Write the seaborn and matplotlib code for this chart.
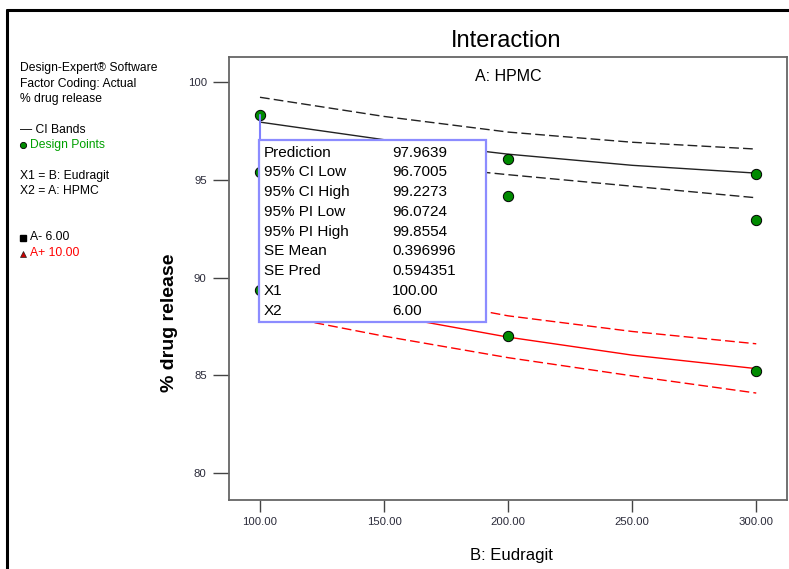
import matplotlib
matplotlib.use("Agg")
import matplotlib.pyplot as plt
from matplotlib.lines import Line2D
from matplotlib.patches import Rectangle
import seaborn as sns

# B: Eudragit levels at which the model curves are read
eudragit = [100, 150, 200, 250, 300]

# A- (HPMC 6.00): predicted % drug release with 95% CI bands
low_fit = [97.96, 97.06, 96.32, 95.75, 95.35]
low_ci_lo = [96.70, 95.90, 95.27, 94.68, 94.09]
low_ci_hi = [99.23, 98.25, 97.45, 96.93, 96.58]

# A+ (HPMC 10.00): predicted % drug release with 95% CI bands
high_fit = [89.50, 88.11, 86.96, 86.04, 85.35]
high_ci_lo = [88.24, 87.01, 85.91, 84.98, 84.10]
high_ci_hi = [90.76, 89.23, 88.05, 87.25, 86.62]

# Design points
pts_x = [100, 100, 100, 200, 200, 200, 300, 300, 300]
pts_y = [98.31, 95.40, 89.37, 96.05, 94.20, 87.01, 95.33, 92.93, 85.22]

# Point prediction read-out
probe_labels = ["Prediction", "95% CI Low", "95% CI High", "95% PI Low",
                "95% PI High", "SE Mean", "SE Pred", "X1", "X2"]
probe_values = ["97.9639", "96.7005", "99.2273", "96.0724", "99.8554",
                "0.396996", "0.594351", "100.00", "6.00"]
probe_x, probe_y = 100, 98.31

x_ticks = [100, 150, 200, 250, 300]
x_tick_labels = ["100.00", "150.00", "200.00", "250.00", "300.00"]
y_ticks = [80, 85, 90, 95, 100]

sns.set_theme(style="white")
plt.rcParams["font.family"] = ["Liberation Sans", "DejaVu Sans"]

fig = plt.figure(figsize=(7.89, 5.69), dpi=100)
ax = fig.add_axes([0.2902, 0.1213, 0.7073, 0.7785])

dash = (0, (7, 3))
line_kw = dict(ax=ax, linewidth=1.0, legend=False, zorder=2)
sns.lineplot(x=eudragit, y=low_fit, color="#222222", **line_kw)
sns.lineplot(x=eudragit, y=low_ci_lo, color="#222222", linestyle=dash, **line_kw)
sns.lineplot(x=eudragit, y=low_ci_hi, color="#222222", linestyle=dash, **line_kw)
sns.lineplot(x=eudragit, y=high_fit, color="#ff0000", **line_kw)
sns.lineplot(x=eudragit, y=high_ci_lo, color="#ff0000", linestyle=dash, **line_kw)
sns.lineplot(x=eudragit, y=high_ci_hi, color="#ff0000", linestyle=dash, **line_kw)

sns.scatterplot(x=pts_x, y=pts_y, ax=ax, color="#008a00", edgecolor="black",
                linewidth=0.7, s=55, zorder=4, legend=False)

ax.set_xlim(87.5, 312.4)
ax.set_ylim(78.63, 101.29)
ax.set_xticks(x_ticks)
ax.set_xticklabels(x_tick_labels)
ax.set_yticks(y_ticks)

tick_color = "#2b2b3a"
ax.tick_params(axis="x", direction="out", length=8.5, width=1.0, color="#444444",
               labelsize=8.2, labelcolor=tick_color, pad=4, bottom=True)
ax.tick_params(axis="y", direction="out", length=11.5, width=1.0, color="#444444",
               labelsize=8.2, labelcolor=tick_color, pad=4.5, left=True)
for s in ax.spines.values():
    s.set_color("#666666")
    s.set_linewidth(1.3)

ax.set_xlabel("B: Eudragit", fontsize=12, color="black", va="center")
ax.xaxis.set_label_coords(0.507, -0.126)
ax.set_ylabel("% drug release", fontsize=14, fontweight="bold", color="black",
              va="center")
ax.yaxis.set_label_coords(-0.106, 0.40)

ax.text(0.50, 0.955, "A: HPMC", transform=ax.transAxes, ha="center", va="center",
        fontsize=11.5, color="black")
fig.text(0.641, 1 - 41 / 569, "Interaction", ha="center", va="center",
         fontsize=17, color="black")

# Read-out box anchored to the probed design point
bx0, by0, bw, bh = 0.054, 0.402, 0.407, 0.411
ylo, yhi = ax.get_ylim()
box_top = ylo + (by0 + bh) * (yhi - ylo)
ax.plot([probe_x, probe_x], [probe_y, box_top], color="#8080ff", linewidth=1.5,
        zorder=5)
ax.add_patch(Rectangle((bx0, by0), bw, bh, transform=ax.transAxes,
                       facecolor="white", edgecolor="#8c8cff", linewidth=1.6,
                       zorder=6))
row_px = [153, 172, 192, 212, 232, 251, 271, 291, 311]
for lab, val, py in zip(probe_labels, probe_values, row_px):
    yy = 1 - (py - 57) / 443
    ax.text(0.0627, yy, lab, transform=ax.transAxes, ha="left", va="center",
            fontsize=11, color="black", zorder=7)
    ax.text(0.292, yy, val, transform=ax.transAxes, ha="left", va="center",
            fontsize=11, color="black", zorder=7)

# Side panel text
def fy(py):
    return 1 - py / 569

side = [
    ("Design-Expert® Software", 68, "black"),
    ("Factor Coding: Actual", 84, "black"),
    ("% drug release", 99, "black"),
    ("— CI Bands", 130, "black"),
    ("X1 = B: Eudragit", 176, "black"),
    ("X2 = A: HPMC", 191, "black"),
]
for txt, py, c in side:
    fig.text(0.0253, fy(py), txt, ha="left", va="center", fontsize=8.7, color=c)
fig.text(0.0385, fy(145), "Design Points", ha="left", va="center", fontsize=8.7,
         color="#00a000")
fig.text(0.0385, fy(237), "A- 6.00", ha="left", va="center", fontsize=8.7,
         color="black")
fig.text(0.0385, fy(253), "A+ 10.00", ha="left", va="center", fontsize=8.7,
         color="#ff0000")
fig.add_artist(Line2D([0.0295], [fy(145)], marker="o", markersize=4.5,
                      markerfacecolor="#008a00", markeredgecolor="black",
                      markeredgewidth=0.6, transform=fig.transFigure))
fig.add_artist(Line2D([0.0295], [fy(238)], marker="s", markersize=4.0,
                      markerfacecolor="black", markeredgecolor="black",
                      transform=fig.transFigure))
fig.add_artist(Line2D([0.0295], [fy(254)], marker="^", markersize=4.8,
                      markerfacecolor="#cc0000", markeredgecolor="#222222",
                      markeredgewidth=0.5, transform=fig.transFigure))

# Window frame
fig.add_artist(Line2D([0.0089, 0.0089], [0.0, fy(10)], color="black",
                      linewidth=2.2, transform=fig.transFigure))
fig.add_artist(Line2D([0.0089, 1.0], [fy(10), fy(10)], color="black",
                      linewidth=2.2, transform=fig.transFigure))

fig.savefig("out.png", dpi=100)
